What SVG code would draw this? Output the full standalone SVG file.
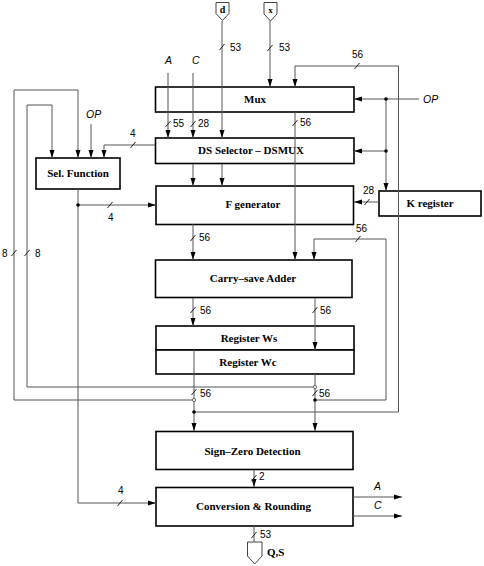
<svg xmlns="http://www.w3.org/2000/svg" width="484" height="566" viewBox="0 0 484 566">
<style>
.box{fill:#fff;stroke:#000;stroke-width:1.6}
.bl{font-family:"Liberation Serif","Times New Roman",serif;font-weight:bold;font-size:11px;text-anchor:middle;fill:#000}
.ln{fill:none;stroke:#555;stroke-width:1}
.ar{marker-end:url(#ah)}
.sl{stroke:#222;stroke-width:1}
.num{font-family:"Liberation Sans",Arial,sans-serif;font-size:10px;fill:#000}
.it{font-family:"Liberation Sans",Arial,sans-serif;font-size:10.5px;font-style:italic;fill:#000}
.dot{fill:#000}
.odot{fill:#fff;stroke:#444;stroke-width:0.8}
.io{fill:#fff;stroke:#444;stroke-width:1}
</style>
<defs>
<marker id="ah" markerUnits="userSpaceOnUse" markerWidth="8" markerHeight="6" refX="8" refY="3" orient="auto">
<path d="M0,0.5 L8,3 L0,5.5 z" fill="#000"/>
</marker>
</defs>

<g id="mux"><rect class="box" x="155.5" y="87" width="198.5" height="25"/><text class="bl" x="255" y="102.5">Mux</text></g>
<g id="dssel"><rect class="box" x="155.5" y="138" width="198.5" height="25.5"/><text class="bl" x="251" y="153.5">DS Selector – DSMUX</text></g>
<g id="selfn"><rect class="box" x="36" y="158" width="84" height="31"/><text class="bl" x="78" y="177">Sel. Function</text></g>
<g id="fgen"><rect class="box" x="156" y="186" width="197.5" height="38.5"/><text class="bl" x="253" y="208">F generator</text></g>
<g id="kreg"><rect class="box" x="379" y="191" width="102" height="25"/><text class="bl" x="430" y="207">K register</text></g>
<g id="csa"><rect class="box" x="155.5" y="260" width="196.5" height="37.5"/><text class="bl" x="253" y="282">Carry–save Adder</text></g>
<g id="regws"><rect class="box" x="156" y="326" width="198" height="24"/><text class="bl" x="249" y="342">Register Ws</text></g>
<g id="regwc"><rect class="box" x="156" y="350" width="198" height="24"/><text class="bl" x="248" y="366">Register Wc</text></g>
<g id="szd"><rect class="box" x="156" y="431.5" width="197" height="38"/><text class="bl" x="252.5" y="455">Sign–Zero Detection</text></g>
<g id="conv"><rect class="box" x="156" y="487.5" width="197" height="38.5"/><text class="bl" x="253.5" y="510">Conversion &amp; Rounding</text></g>

<g id="in-d">
<path class="io" d="M216,2.5 H229 V13.5 L222.5,20.5 L216,13.5 Z"/>
<text class="bl" x="222.5" y="13" style="font-size:10px">d</text>
</g>
<g id="in-x">
<path class="io" d="M264,2.5 H277 V14 L270.5,21 L264,14 Z"/>
<text class="bl" x="270.5" y="12.5" style="font-size:9px">x</text>
</g>
<g id="out-qs">
<path class="io" d="M247.5,542 H262 V556 L254.7,564 L247.5,556 Z"/>
<text class="bl" x="267" y="555.5" style="text-anchor:start">Q,S</text>
</g>

<g id="connectors">
<path class="ln ar" d="M222,21 V138"/>
<path class="ln ar" d="M270,21 V87"/>
<path class="ln ar" d="M168,73 V138"/>
<path class="ln ar" d="M193,73 V138"/>
<path class="ln ar" d="M295,112 V260"/>
<path class="ln ar" d="M194,412 H398.5 V66 H295 V87"/>
<path class="ln ar" d="M194,350 V431"/>
<path class="ln ar" d="M315,374 V431"/>
<path class="ln ar" d="M315,400 H386 V239 H314 V260"/>
<path class="ln ar" d="M193,298 V326"/>
<path class="ln ar" d="M315,298 V350"/>
<path class="ln ar" d="M193,224 V260"/>
<path class="ln ar" d="M193,164 V186"/>
<path class="ln ar" d="M222,164 V186"/>
<path class="ln ar" d="M419,99 H354"/>
<path class="ln ar" d="M386,99 V191"/>
<path class="ln ar" d="M386,151 H354"/>
<path class="ln ar" d="M379,202 H354"/>
<path class="ln ar" d="M194,400 H14 V90 H78 V158"/>
<path class="ln ar" d="M315,387 H27 V105 H52 V158"/>
<path class="ln ar" d="M91,124 V158"/>
<path class="ln ar" d="M155,145 H104 V158"/>
<path class="ln ar" d="M78,189 V503 H156"/>
<path class="ln ar" d="M78,205 H156"/>
<path class="ln ar" d="M254,470 V487"/>
<path class="ln ar" d="M353,497 H402"/>
<path class="ln ar" d="M353,516 H402"/>
<path class="ln" d="M254,526 V542"/>

<g class="sl">
<line x1="219.5" y1="50" x2="224.5" y2="44"/>
<line x1="267.5" y1="51" x2="272.5" y2="45"/>
<line x1="354.5" y1="69" x2="359.5" y2="63"/>
<line x1="292.5" y1="126" x2="297.5" y2="120"/>
<line x1="165.5" y1="127" x2="170.5" y2="121"/>
<line x1="190.5" y1="127" x2="195.5" y2="121"/>
<line x1="130.5" y1="148" x2="135.5" y2="142"/>
<line x1="107.5" y1="208" x2="112.5" y2="202"/>
<line x1="11.5" y1="256" x2="16.5" y2="250"/>
<line x1="24.5" y1="256" x2="29.5" y2="250"/>
<line x1="364.5" y1="205" x2="369.5" y2="199"/>
<line x1="355.5" y1="242" x2="360.5" y2="236"/>
<line x1="190.5" y1="241" x2="195.5" y2="235"/>
<line x1="190.5" y1="313" x2="195.5" y2="307"/>
<line x1="312.5" y1="313" x2="317.5" y2="307"/>
<line x1="191.5" y1="395" x2="196.5" y2="389"/>
<line x1="312.5" y1="396" x2="317.5" y2="390"/>
<line x1="251.5" y1="481" x2="256.5" y2="475"/>
<line x1="117.5" y1="506" x2="122.5" y2="500"/>
<line x1="251.5" y1="538" x2="256.5" y2="532"/>
</g>

<circle class="dot" cx="386" cy="99" r="1.8"/>
<circle class="dot" cx="386" cy="151" r="1.8"/>
<circle class="dot" cx="78" cy="205" r="1.8"/>
<circle class="dot" cx="194" cy="412" r="1.8"/>
<circle class="dot" cx="315" cy="400" r="1.8"/>
<circle class="odot" cx="194" cy="400" r="1.6"/>
<circle class="odot" cx="315" cy="387" r="1.6"/>

<text class="num" x="230" y="51">53</text>
<text class="num" x="279" y="51">53</text>
<text class="num" x="352" y="58">56</text>
<text class="num" x="300" y="126">56</text>
<text class="num" x="173" y="127">55</text>
<text class="num" x="198" y="127">28</text>
<text class="num" x="130" y="137">4</text>
<text class="num" x="108" y="221">4</text>
<text class="num" x="2" y="257">8</text>
<text class="num" x="35" y="257">8</text>
<text class="num" x="363" y="194">28</text>
<text class="num" x="356" y="232">56</text>
<text class="num" x="199" y="241">56</text>
<text class="num" x="200" y="314">56</text>
<text class="num" x="320" y="314">56</text>
<text class="num" x="200" y="397">56</text>
<text class="num" x="319" y="397">56</text>
<text class="num" x="259" y="480">2</text>
<text class="num" x="118" y="494">4</text>
<text class="num" x="260" y="538">53</text>

<text class="it" x="165" y="64">A</text>
<text class="it" x="192" y="64">C</text>
<text class="it" x="86" y="118">OP</text>
<text class="it" x="423" y="103">OP</text>
<text class="it" x="374" y="490">A</text>
<text class="it" x="374" y="509">C</text>
</g>
</svg>
